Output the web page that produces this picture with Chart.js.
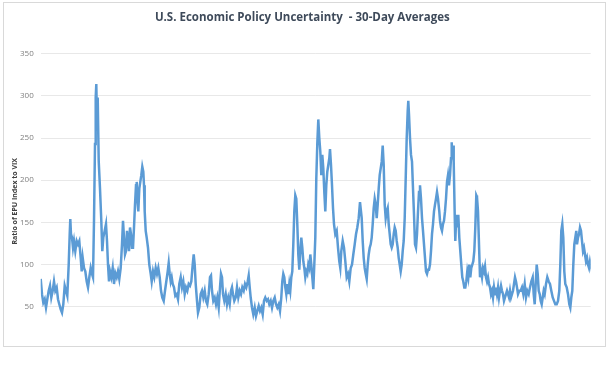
<!DOCTYPE html>
<html>
<head>
    <meta charset="utf-8">
    <script src="https://cdn.jsdelivr.net/npm/chart.js"></script>
    <title>EPU</title>
    <style>
        html, body { margin: 0; padding: 0; background: #fff; }
        #wrap { position: absolute; left: 0; top: 0; width: 610px; height: 347px; overflow: hidden; }
        #frame { position: absolute; left: 3px; top: 2px; width: 603px; height: 345px; border: 1px solid #d9d9d9; box-sizing: border-box; pointer-events: none; }
    </style>
</head>
<body>
    <div id="wrap">
        <canvas id="chartEpu" width="610" height="373"></canvas>
    </div>
    <div id="frame"></div>

    <script type="text/javascript">
        // time position along the (unlabelled) x axis, arbitrary units
        const t = [0,1.3,2.6,4,5.3,6.6,8,9.3,10.6,12,13.3,14.6,16,17.3,18.6,20,21.3,22.6,24,25.3,
            26.6,28,29,29.6,30.3,31.3,32.3,33.3,34.6,36,37.3,38.6,40,41,42,43.3,44.6,46,47.3,48.6,
            50,51.3,52.3,53.3,54.3,55,55.6,56.3,57,58,59.3,60.6,61.6,62.6,64,65.3,66.3,67.3,68.3,69.3,
            70.6,72,73.3,74.6,76,77.3,78.6,
            80,81.3,82.3,83.3,84.3,85.3,86.3,87.3,88.3,89.3,90.3,91.3,92.3,93.3,94.3,95.3,96,96.6,97.6,98.6,
            99.6,100.6,101.6,102.6,103.3,104,105,106,107.3,108.6,110,111,112.3,113.6,115,116.3,117.6,119,120.3,121.6,
            123,124.3,125.6,127,128,129,130,131,132,133.3,134.6,136,137.3,138.6,140,141.3,142.6,144,145.3,146.6,
            148,149.3,150.6,152,153,154,155,156.3,157.3,158.6,
            160,161.3,162.6,164,165.3,166.6,168,169.3,170.3,171.3,172.6,174,175.3,176.6,178,179.3,180.3,181.3,182.3,183.6,
            185,186.3,187.6,189,190.3,191.3,192.3,193.6,195,196.3,197.6,199,200.3,201.6,203,204.3,205.6,207,208,209,
            210,211.3,212.6,214,215.3,216.6,218,219.3,220.6,222,223.3,224.6,226,227.3,228.6,230,231.3,232.6,234,235.3,
            236.6,238,239.3,
            240.6,241.6,242.6,243.6,244.6,245.6,246.6,247.6,248.6,249.6,250.6,251.6,252.6,253.6,254.6,255.6,256.6,257.6,258.6,259.6,
            260.6,261.6,262.6,263.6,264.6,265.6,266.6,267.6,268.6,269.6,270.6,271.6,272.6,273.6,274.6,275.6,276.6,277.6,278.6,279.6,
            280.6,281.6,282.6,283.6,284.6,285.6,286.6,287.6,288.6,
            289.3,290.3,291.3,292.3,293.3,294.6,296,297.3,298.6,299.6,300.6,302,303.3,304.6,306,307.3,308.6,310,311.3,312.6,
            314,315.3,316.6,318,319.3,
            320,321,322,323,324,325,326,327,328,329,330,331,332,333,334,335,336,337,338,339,
            340,341,342,343,344,345,346,347,348,349,350,351,352,353,354,355,356,357,358,359,
            360,361,362,363,364,365,366,367,367.6,368.3,
            369.3,370.3,371.3,372.3,373.3,374.3,375.3,376.3,377.3,378.3,379.3,380.3,381.3,382.3,383.3,384.3,385.3,386.3,387.3,388.3,
            389.3,390.3,391.3,392.3,393.3,394.3,395.3,396.3,397.3,398.6,
            399.3,400.3,401.3,402.3,403.3,404.3,405.3,406.3,407.3,408.3,409.3,410.3,411,411.6,412.3,413,414,414.6,
            415.6,416.6,417.6,418.6,419.6,420.6,421.6,422.6,423.6,424.6,425.6,426.6,427.6,428.6,429.6,430.6,431.6,432.6,433.6,434.6,
            435.6,436.3,
            437.3,438.3,439.3,440.3,441.3,442.3,443.3,444.3,445.3,446.3,447.3,448.3,449.3,450.3,451.3,452.3,453.3,454.3,455.3,456.3,
            457.3,458.3,459.3,460.3,461.3,462.3,463.3,464.3,465.3,466.3,467.3,468.3,469.3,470.3,471.3,472.3,473.3,474.3,475.3,476.3,
            477.3,478.6,
            480,481.3,482.6,484,485.3,486.6,488,489.3,490.6,492,
            493,494,495,496,497,498,499,500,501,502,503,504,
            505.3,506.6,508,509.3,510.6,512,513.3,514.6,516,517.3,518.6,
            519.6,520.6,521.6,522.6,523.6,524.6,526,527.3,528.6,
            529.6,530.6,531.6,532.6,533.6,534.6,535.6,536.3,
            537.3,538.3,539.3,540.3,541.3,542.3,543.3,544.3,545.3,546.3,547.3,548.3,549.3,550];

        // ratio of EPU index to VIX, 30-day averages
        const ratio = [83,65,55,59,49,59,69,75,61,69,80,69,73,59,53,47,43,53,75,69,
            63,100,136,154,136,132,120,128,116,128,124,128,108,92,108,96,92,80,73,85,
            96,89,85,152,243,298,314,270,298,223,190,152,116,132,140,148,128,100,80,92,
            85,96,77,90,85,92,83,
            96,124,152,132,112,116,140,128,116,144,136,120,120,144,171,194,198,178,163,190,
            198,206,216,210,194,163,140,132,120,100,89,80,92,85,96,89,96,85,69,61,
            57,69,80,92,102,89,80,85,77,73,63,65,59,77,85,73,80,65,73,69,
            77,75,80,100,112,100,77,57,43,49,
            65,69,61,69,57,53,65,85,87,69,57,61,53,61,49,73,89,85,65,57,
            65,53,61,53,69,73,65,57,61,73,61,69,65,73,69,77,73,80,87,73,
            61,49,41,49,39,45,51,45,49,41,57,61,57,59,53,57,49,57,61,53,
            49,53,45,
            61,80,89,85,73,65,77,65,77,69,85,92,124,163,182,178,148,112,94,116,
            132,120,104,96,85,92,89,100,96,112,100,85,71,100,132,202,243,272,250,234,
            206,230,214,186,163,194,210,218,226,
            237,218,194,167,148,136,140,120,104,96,116,128,120,104,85,89,80,96,100,112,
            124,136,144,155,174,
            174,155,128,108,96,89,83,100,112,120,124,132,148,167,178,171,155,171,190,206,
            214,222,241,218,171,155,163,167,148,136,124,120,124,136,144,140,128,120,108,100,
            92,100,116,128,155,202,250,282,294,278,
            250,230,222,190,159,124,120,136,163,186,194,178,155,140,124,108,92,89,94,94,
            100,116,136,148,163,171,178,186,178,163,
            152,144,140,148,152,163,178,198,206,194,206,226,245,230,241,222,159,128,
            159,144,159,132,116,100,85,80,73,73,80,92,85,100,85,96,100,104,116,144,
            182,180,
            163,124,85,92,85,96,92,98,85,80,85,77,73,65,69,61,73,65,73,65,
            73,61,69,75,69,65,57,61,65,69,65,61,69,61,65,69,77,85,80,73,
            65,69,
            69,73,65,77,61,69,65,73,80,85,
            65,53,77,100,89,69,65,57,53,61,69,65,
            77,85,80,77,69,61,57,53,53,57,69,
            100,140,148,132,92,77,73,65,53,
            49,61,69,100,124,132,140,124,
            132,136,144,140,128,116,120,112,104,108,100,96,104,100];

        const yTicks = [0, 50, 100, 150, 200, 250, 300, 350];

        const points = t.map((x, i) => ({ x: x, y: ratio[i] }));

        const ctx = document.getElementById('chartEpu').getContext('2d');
        new Chart(ctx, {
            type: 'line',
            data: {
                datasets: [{
                    label: 'EPU / VIX',
                    data: points,
                    borderColor: '#5b9bd5',
                    borderWidth: 2.5,
                    pointRadius: 0,
                    tension: 0,
                    fill: false
                }]
            },
            options: {
                responsive: false,
                animation: false,
                layout: { padding: { left: 14, right: 19.3, top: 0, bottom: 24 } },
                plugins: {
                    legend: { display: false },
                    tooltip: { enabled: false },
                    title: {
                        display: true,
                        text: 'U.S. Economic Policy Uncertainty  - 30-Day Averages',
                        color: '#3e4a5a',
                        font: { family: 'Open Sans', size: 11.5, weight: 'bold' },
                        padding: { top: 11, bottom: 28.8 }
                    }
                },
                scales: {
                    x: {
                        type: 'linear',
                        min: 0,
                        max: 550,
                        display: false
                    },
                    y: {
                        min: 0,
                        max: 350,
                        afterBuildTicks: (scale) => {
                            scale.ticks = yTicks.map(v => ({ value: v }));
                        },
                        afterFit: (scale) => { scale.width = 26.7; },
                        border: { display: false },
                        grid: { color: '#e8e8e8', drawTicks: false },
                        ticks: {
                            padding: 7,
                            color: '#7f7f7f',
                            font: { family: 'Open Sans', size: 8 }
                        },
                        title: {
                            display: true,
                            text: 'Ratio of EPU Index to VIX',
                            color: '#404040',
                            font: { family: 'Open Sans', size: 7, weight: 'bold' },
                            padding: { top: -3.2, bottom: 0 }
                        }
                    }
                }
            }
        });
    </script>
</body>
</html>
